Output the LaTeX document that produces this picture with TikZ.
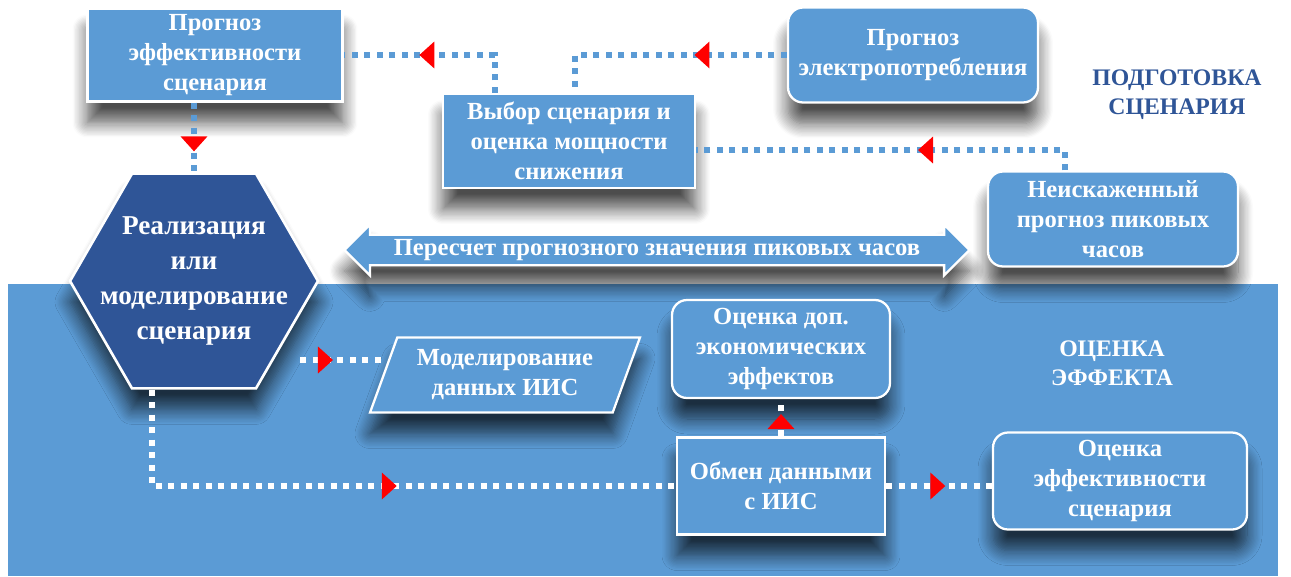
\documentclass[tikz,border=0pt]{standalone}
\usepackage{fontspec}
\setmainfont{Liberation Serif}
\usetikzlibrary{shapes.geometric,shapes.arrows,shadows.blur,decorations.markings,arrows.meta}
\definecolor{boxblue}{RGB}{91,155,213}
\definecolor{hexblue}{RGB}{47,85,151}
\begin{document}
\begin{tikzpicture}[x=0.02cm,y=-0.02cm,
	shade/.style={blur shadow={shadow xshift=0cm,shadow yshift=-0.42cm,shadow opacity=70,shadow blur radius=0.3cm,shadow blur steps=12}},
	box/.style={shade,draw=white,line width=1.3pt,fill=boxblue,text=white,align=center,inner sep=2pt,font=\bfseries\fontsize{14}{17}\selectfont},
	rbox/.style={box,rounded corners=0.3cm},
	dots/.style={line width=0.12cm,dash pattern=on 0.12cm off 0.13cm,draw=boxblue},
	wdots/.style={dots,draw=white},
	redtip/.style={postaction={decorate,decoration={markings,mark=at position #1 with {\arrow[red]{Triangle[length=0.3cm,width=0.52cm]}}}}},
	title/.style={align=center,font=\bfseries\fontsize{13.5}{16.5}\selectfont}]
	\useasboundingbox (0,0) rectangle (1291,576);
	\fill[boxblue] (8,284) rectangle (1278,576);
	% upper part
	\node[box,minimum width=5.1cm,minimum height=1.86cm](prog) at (215,55) {Прогноз\\эффективности\\сценария};
	\node[box,minimum width=5.04cm,minimum height=1.88cm](vyb) at (569,141) {Выбор сценария и\\оценка мощности\\снижения};
	\node[rbox,minimum width=5cm,minimum height=1.9cm](elek) at (913,55) {Прогноз\\электропотребления};
	\node[rbox,minimum width=5cm,minimum height=1.9cm](neis) at (1113,219) {Неискаженный\\прогноз пиковых\\часов};
	\node[title,text=hexblue](podg) at (1177,95) {ПОДГОТОВКА\\СЦЕНАРИЯ};
	\node[box,double arrow,double arrow head extend=0.2cm,minimum height=12.5cm,inner sep=2pt](pere) at (657,250) {Пересчет прогнозного значения пиковых часов};
	\node[shade,draw=white,line width=1.5pt,fill=hexblue,regular polygon,regular polygon sides=6,minimum size=4.96cm,inner sep=0pt,
		label={[text=white,align=center,font=\bfseries\fontsize{15.5}{20}\selectfont]center:Реализация\\или\\моделирование\\сценария}](hexa) at (194,281) {};
	% lower part
	\node[title,text=white](ocen) at (1112,363) {ОЦЕНКА\\ЭФФЕКТА};
	\node[box,trapezium,trapezium left angle=68,trapezium right angle=112,trapezium stretches=true,minimum width=5.4cm,minimum height=1.5cm](mod) at (505,375) {Моделирование\\данных ИИС};
	\node[rbox,minimum width=4.36cm,minimum height=1.96cm](dop) at (781,349) {Оценка доп.\\экономических\\эффектов};
	\node[box,minimum width=4.16cm,minimum height=1.94cm](obm) at (781,486) {Обмен данными\\с ИИС};
	\node[rbox,minimum width=5.08cm,minimum height=1.94cm](eff) at (1120,481) {Оценка\\эффективности\\сценария};
	\coordinate (c1) at (495,0);
	\coordinate (c2) at (575,0);
	\coordinate (c3) at (1065,150);
	\coordinate (c5) at (300,360);
	\coordinate (c6) at (152,0);
	\draw[dots,redtip=0.6](vyb.north -| c1) |- (prog.east);
	\draw[dots,redtip=0.37](elek.west) -| (vyb.north -| c2);
	\draw[dots,redtip=0.43](neis.north -| c3) |- (vyb.east |- c3);
	\draw[dots,redtip=0.7](prog.south -| hexa.north) -- (hexa.north);
	\draw[wdots,redtip=0.4](c5) -- (mod.west |- c5);
	\draw[wdots,redtip=0.55](hexa.south -| c6) |- (obm.west);
	\draw[wdots,redtip=0.6](obm.north) -- (dop.south);
	\draw[wdots,redtip=0.56](obm.east) -- (eff.west |- obm.east);
\end{tikzpicture}
\end{document}
